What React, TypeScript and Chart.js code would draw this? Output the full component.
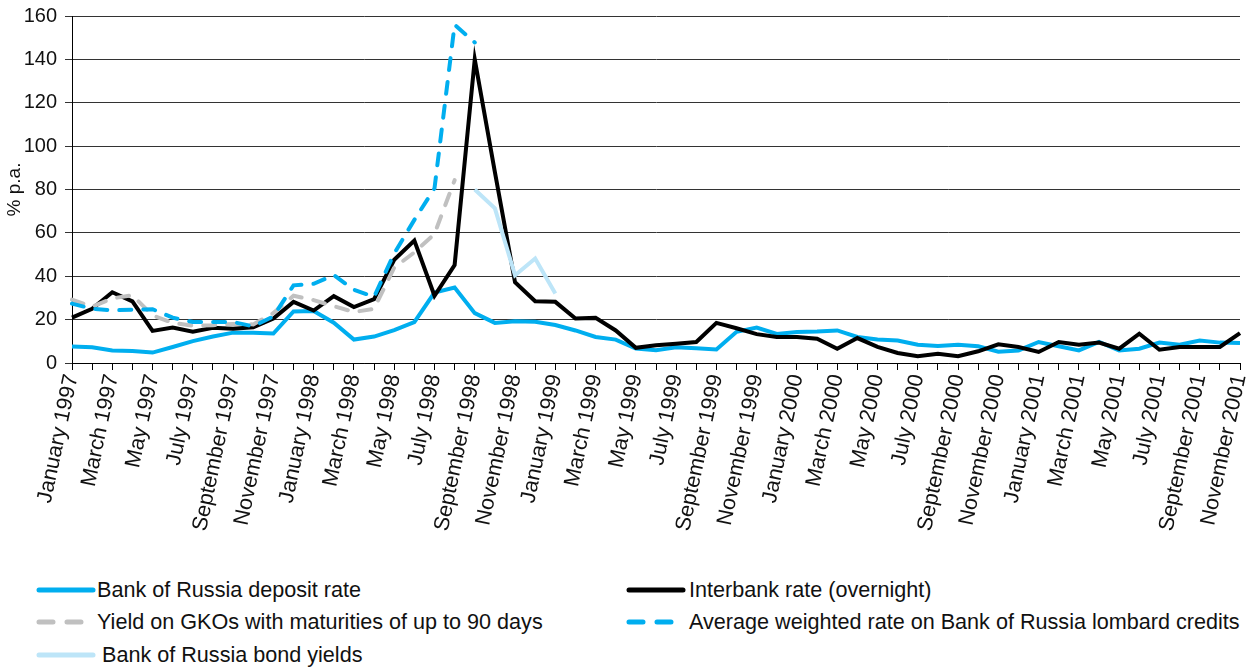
import React, { useEffect, useRef } from "react";
import { Chart, registerables } from "chart.js";

Chart.register(...registerables);

const MONTHS = ["January", "February", "March", "April", "May", "June", "July", "August", "September", "October", "November", "December"];
const YEARS = [1997, 1998, 1999, 2000, 2001];
const N_POINTS = 59; // January 1997 .. November 2001

const labels: string[] = [];
for (const y of YEARS) for (const m of MONTHS) if (labels.length < N_POINTS) labels.push(`${m} ${y}`);

const depositRate = [7.6, 7.3, 5.8, 5.5, 4.8, 7.4, 10.1, 12.2, 14, 14, 13.6, 23.8, 24, 18.6, 10.8, 12.2, 15.2, 18.9, 32.5, 34.8, 23, 18.5, 19.2, 19, 17.5, 15, 12, 10.8, 6.7, 5.9, 7.3, 6.8, 6.2, 14.4, 16.3, 13.4, 14.3, 14.5, 15, 12, 10.8, 10.4, 8.4, 7.8, 8.4, 7.7, 5.2, 5.8, 9.7, 7.7, 5.8, 9.7, 5.8, 6.6, 9.4, 8.4, 10.4, 9.4, 9.2];
const interbankRate = [20.9, 25, 32.6, 28.4, 14.8, 16.3, 14.4, 16.2, 15.8, 16.5, 20.5, 28.2, 24.2, 30.8, 25.8, 29.4, 47.6, 56.5, 31, 45.2, 140, 88, 37.2, 28.5, 28.2, 20.5, 20.8, 15, 7, 8.2, 8.9, 9.7, 18.5, 16, 13.3, 12, 12, 11.2, 6.6, 11.5, 7.4, 4.6, 3.1, 4.3, 3.1, 5.4, 8.6, 7.4, 5.1, 9.7, 8.4, 9.4, 6.6, 13.5, 6.1, 7.4, 7.4, 7.4, 13.8];
const gkoYield = [29.2, 26, 29.8, 31.2, 22, 18.5, 17.2, 17.4, 18, 17.8, 23, 31, 29, 26.2, 23.5, 25, 44, 51, 59.5, 84.3];
const lombardRate = [27.4, 25, 24.3, 24.6, 24.8, 20.9, 18.9, 18.9, 18.9, 16.9, 21.5, 35.8, 36.5, 40.5, 33.8, 30.5, 50.5, 66, 80.5, 156, 147.8];
const bondYieldStart = 20; // September 1998
const bondYield = [80, 71.3, 40.5, 48.2, 32];

const pad = (arr: number[], start: number) => {
  const out: (number | null)[] = new Array(N_POINTS).fill(null);
  arr.forEach((v, i) => (out[start + i] = v));
  return out;
};

const BLUE = "#00AEEF";
const GREY = "#C0C0C0";
const LIGHT = "#BDE5F8";
const FONT = "'Liberation Sans', Arial, Helvetica, sans-serif";

const legendItems = [
  { text: "Bank of Russia deposit rate", color: BLUE, dash: "", x: 36, tx: 97, y: 590 },
  { text: "Interbank rate (overnight)", color: "#000", dash: "", x: 626, tx: 689, y: 590 },
  { text: "Yield on GKOs with maturities of up to 90 days", color: GREY, dash: "14 14", x: 36, tx: 97, y: 622 },
  { text: "Average weighted rate on Bank of Russia lombard credits", color: BLUE, dash: "14 14", x: 626, tx: 689, y: 622 },
  { text: "Bank of Russia bond yields", color: LIGHT, dash: "", x: 36, tx: 102, y: 655 },
];

export default function App() {
  const ref = useRef<HTMLCanvasElement | null>(null);
  useEffect(() => {
    document.body.style.margin = "0";
    const canvas = ref.current!;
    const chart = new Chart(canvas, {
      type: "line",
      data: {
        labels,
        datasets: [
          { label: "Bank of Russia deposit rate", data: depositRate, borderColor: BLUE, borderWidth: 4, order: 5 },
          { label: "Interbank rate (overnight)", data: interbankRate, borderColor: "#000", borderWidth: 4, order: 4 },
          { label: "Yield on GKOs with maturities of up to 90 days", data: pad(gkoYield, 0), borderColor: GREY, borderWidth: 4, borderDash: [12, 12], borderCapStyle: "round", order: 3 },
          { label: "Average weighted rate on Bank of Russia lombard credits", data: pad(lombardRate, 0), borderColor: BLUE, borderWidth: 4, borderDash: [12, 12], borderCapStyle: "round", order: 2 },
          { label: "Bank of Russia bond yields", data: pad(bondYield, bondYieldStart), borderColor: LIGHT, borderWidth: 4, order: 1 },
        ],
      },
      options: {
        animation: false,
        responsive: false,
        devicePixelRatio: 1,
        spanGaps: false,
        elements: { point: { radius: 0, hoverRadius: 0 }, line: { tension: 0, borderJoinStyle: "miter" } },
        layout: { padding: { top: 16, right: 13, left: 0, bottom: 0 } },
        plugins: { legend: { display: false }, tooltip: { enabled: false } },
        scales: {
          x: {
            type: "category",
            offset: false,
            grid: { drawOnChartArea: false, tickLength: 7, color: "#000", lineWidth: 1 },
            border: { color: "#000", width: 1 },
            ticks: {
              autoSkip: false,
              maxRotation: 78,
              minRotation: 78,
              padding: 2,
              color: "#111",
              font: { family: FONT, size: 21.6 },
              callback: (_v: any, i: number) => (i % 2 === 0 ? labels[i] : ""),
            },
            afterFit: (s: any) => {
              s.height = 560 - 363;
              s.paddingLeft = 0;
              s.paddingRight = 0;
            },
          },
          y: {
            min: 0,
            max: 160,
            grid: { color: "#333", tickLength: 7, lineWidth: 1 },
            border: { color: "#000", width: 1 },
            ticks: { stepSize: 20, padding: 8, color: "#111", font: { family: FONT, size: 20 } },
            title: { display: true, text: "% p.a.", color: "#111", font: { family: FONT, size: 19 }, padding: { top: 3, bottom: 0 } },
            afterFit: (s: any) => {
              s.width = 72;
              s.paddingTop = 0;
              s.paddingBottom = 0;
            },
          },
        },
      },
    });
    return () => chart.destroy();
  }, []);

  return (
    <div style={{ position: "relative", width: 1253, height: 670, background: "#fff", fontFamily: FONT }}>
      <canvas ref={ref} width={1253} height={560} style={{ position: "absolute", left: 0, top: 0, width: 1253, height: 560 }} />
      {legendItems.map((it) => (
        <React.Fragment key={it.text}>
          <svg style={{ position: "absolute", left: it.x, top: it.y - 5 }} width={60} height={10}>
            <line x1={3} y1={5} x2={57} y2={5} stroke={it.color} strokeWidth={5} strokeLinecap="round" strokeDasharray={it.dash || undefined} />
          </svg>
          <div style={{ position: "absolute", left: it.tx, top: it.y - 13, fontSize: 21.6, lineHeight: "26px", color: "#111", whiteSpace: "nowrap" }}>{it.text}</div>
        </React.Fragment>
      ))}
    </div>
  );
}
